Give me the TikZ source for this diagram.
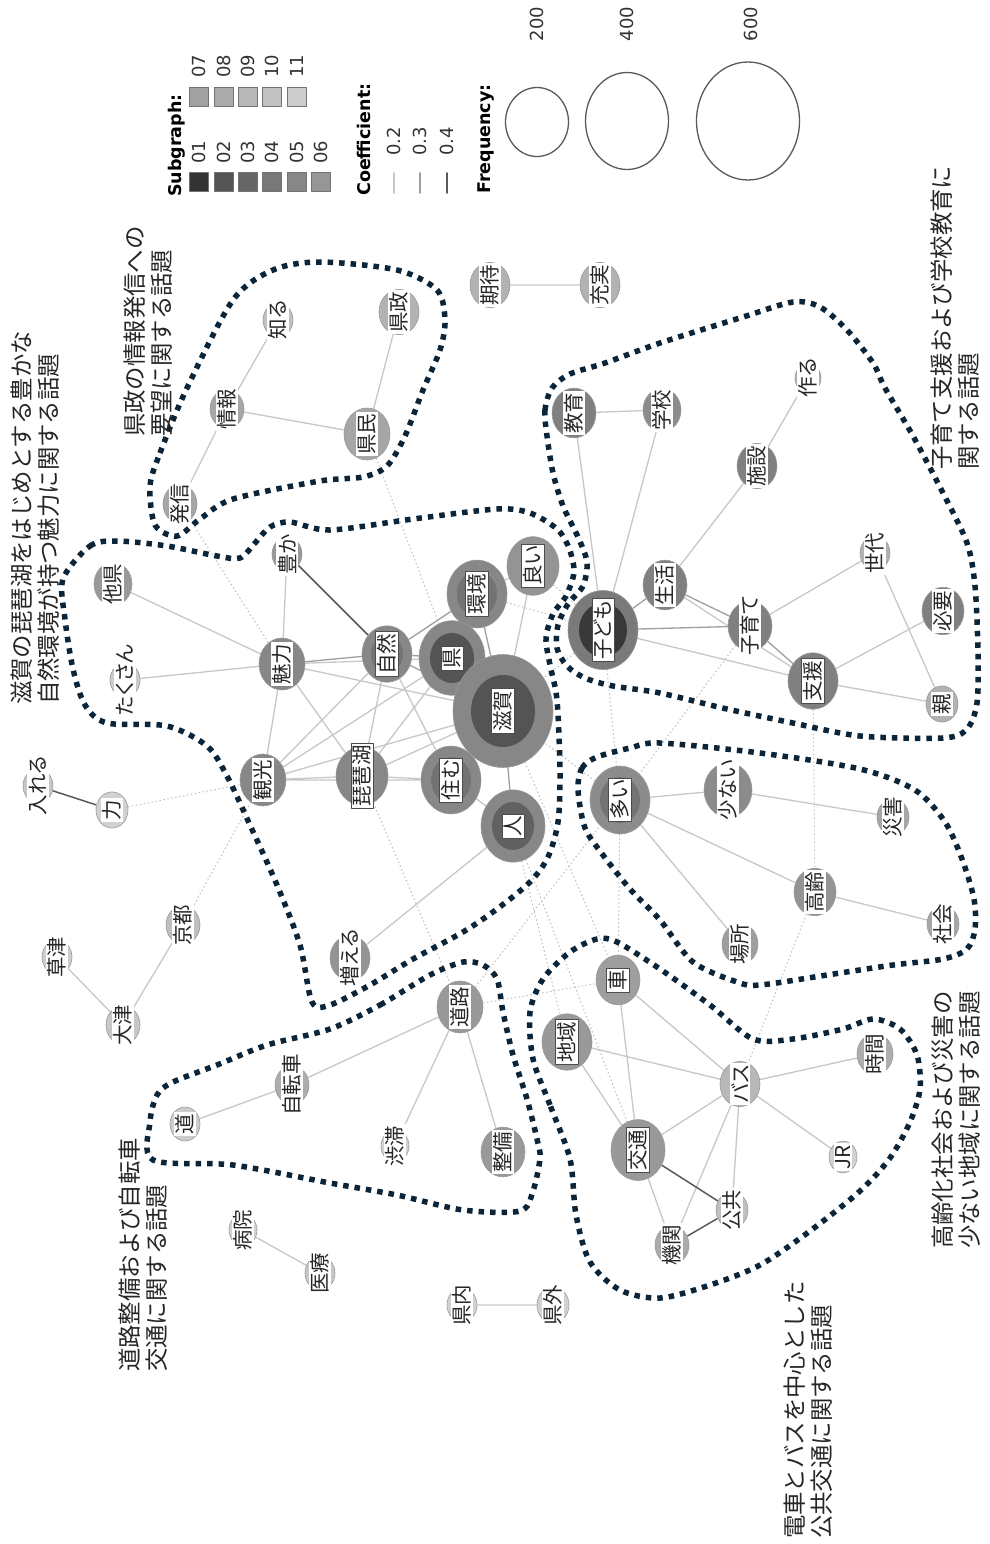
\documentclass[tikz,border=0pt]{standalone}
\usepackage{fontspec}
\newfontfamily\jpfont{Noto Sans CJK JP}
\newfontfamily\kwjpfont[RawFeature=+palt]{Noto Sans CJK JP}
\newfontfamily\legendfont{DejaVu Sans}
\usepackage{tikz}
\usetikzlibrary{backgrounds,shapes.geometric}
\definecolor{hullnavy}{RGB}{12,36,56}
\newcommand\kwfont{\kwjpfont\fontsize{20.5}{21}\selectfont}
\newcommand\notefont{\jpfont\fontsize{23.4}{27}\selectfont}
\tikzset{
  every picture/.append style={line cap=round,line join=round},
  kw/.style 2 args={ellipse,draw=black!40,line width=0.6pt,fill=black!#2,inner sep=0pt,minimum width={2pt*#1},minimum height={2.26pt*#1}},
  kw core/.style n args={3}{path picture={\fill[black!#3] (path picture bounding box.center) ellipse [x radius=#1pt,y radius=#2pt];}},
  kw label/.style={rotate=90,fill=white,inner sep=1.8pt,font=\kwfont,text=black!85},
  boxed/.style={draw=black!70,line width=0.6pt},
  co low/.style={black!22,line width=1.3pt},
  co mid/.style={black!38,line width=1.3pt},
  co high/.style={black!65,line width=1.5pt},
  co cross/.style={black!25,line width=1pt,dash pattern=on 1.5pt off 2.5pt},
  topic hull/.style={draw=hullnavy,line width=5.5pt,line cap=butt,dash pattern=on 5.5pt off 6pt},
  topic note/.style={rotate=90,anchor=north west,align=left,inner sep=0pt,font=\notefont,text=black!85},
  legend head/.style={rotate=90,anchor=west,inner sep=0pt,font=\legendfont\bfseries\fontsize{17.5}{18}\selectfont},
  legend num/.style={rotate=90,anchor=west,inner sep=0pt,font=\legendfont\fontsize{18}{18}\selectfont,text=black!80},
  sgbox/.style={draw=black!55,line width=0.8pt,minimum size=19pt,inner sep=0pt},
  freq/.style={ellipse,draw=black!65,line width=1.3pt,inner sep=0pt}
}
\begin{document}
\begin{tikzpicture}[x=1pt,y=-1pt]
\useasboundingbox (0,0) rectangle (989,1544);

\node[legend head] (sg-head) at (177,197) {Subgraph:};
\node[sgbox,fill=black!80] (sg01) at (199,182) {};
\node[sgbox,fill=black!67] (sg02) at (224,182) {};
\node[sgbox,fill=black!60] (sg03) at (248,182) {};
\node[sgbox,fill=black!53] (sg04) at (272,182) {};
\node[sgbox,fill=black!47] (sg05) at (297,182) {};
\node[sgbox,fill=black!41] (sg06) at (321,182) {};
\node[sgbox,fill=black!37] (sg07) at (199,97) {};
\node[sgbox,fill=black!33] (sg08) at (224,97) {};
\node[sgbox,fill=black!28] (sg09) at (248,97) {};
\node[sgbox,fill=black!24] (sg10) at (272,97) {};
\node[sgbox,fill=black!20] (sg11) at (297,97) {};
\node[legend num] (sg01-t) at (199,164) {01};
\node[legend num] (sg02-t) at (224,164) {02};
\node[legend num] (sg03-t) at (248,164) {03};
\node[legend num] (sg04-t) at (272,164) {04};
\node[legend num] (sg05-t) at (297,164) {05};
\node[legend num] (sg06-t) at (321,164) {06};
\node[legend num] (sg07-t) at (199,78) {07};
\node[legend num] (sg08-t) at (224,78) {08};
\node[legend num] (sg09-t) at (248,78) {09};
\node[legend num] (sg10-t) at (272,78) {10};
\node[legend num] (sg11-t) at (297,78) {11};

\node[legend head] (co-head) at (364,196) {Coefficient:};
\draw[co low,line width=1.6pt] (394,173) -- (394,193);
\draw[co mid,line width=1.6pt] (420,173) -- (420,193);
\draw[co high,line width=1.6pt] (447,173) -- (447,193);
\node[legend num] (co-2) at (394,156) {0.2};
\node[legend num] (co-3) at (420,156) {0.3};
\node[legend num] (co-4) at (447,156) {0.4};

\node[legend head] (fr-head) at (486,194) {Frequency:};
\node[freq,minimum width=63pt,minimum height=69pt] (fr200) at (537,122) {};
\node[freq,minimum width=83pt,minimum height=97pt] (fr400) at (627,121) {};
\node[freq,minimum width=103pt,minimum height=118pt] (fr600) at (748,121) {};
\node[legend num,anchor=center] (fr200-t) at (537,24) {200};
\node[legend num,anchor=center] (fr400-t) at (627,24) {400};
\node[legend num,anchor=center] (fr600-t) at (751,24) {600};

\node[kw={17}{35},label={[kw label]center:発信}] (hasshin) at (180,504) {};
\node[kw={17}{35},label={[kw label]center:情報}] (joho) at (227,409) {};
\node[kw={15}{25},label={[kw label]center:知る}] (shiru) at (278,320) {};
\node[kw={23}{35},label={[kw label]center:県民}] (kenmin) at (367,434) {};
\node[kw={20}{30},label={[kw label]center:県政}] (kensei) at (399,312) {};
\node[kw={20}{30},label={[kw label]center:期待}] (kitai) at (490,285) {};
\node[kw={20}{30},label={[kw label]center:充実}] (juujitsu) at (600,285) {};

\node[kw={19}{40},label={[kw label]center:他県}] (taken) at (113,584) {};
\node[kw={15}{20},label={[kw label]center:たくさん}] (takusan) at (125,680) {};
\node[kw={15}{40},label={[kw label]center:豊か}] (yutaka) at (287,554) {};
\node[kw={23}{47},label={[kw label]center:魅力}] (miryoku) at (282,664) {};
\node[kw={25}{47},kw core={16}{19}{55},label={[kw label,boxed]center:自然}] (shizen) at (387,654) {};
\node[kw={30}{47},kw core={20}{23}{55},label={[kw label,boxed]center:環境}] (kankyo) at (477,594) {};
\node[kw={26}{42},label={[kw label,boxed]center:良い}] (yoi) at (533,566) {};
\node[kw={33}{47},kw core={22}{25}{67},label={[kw label,boxed]center:県}] (ken) at (452,658) {};
\node[kw={50}{47},kw core={32}{36}{67},label={[kw label,boxed]center:滋賀}] (shiga) at (503,711) {};
\node[kw={23}{47},label={[kw label]center:観光}] (kanko) at (263,780) {};
\node[kw={26}{47},label={[kw label,boxed]center:琵琶湖}] (biwako) at (362,776) {};
\node[kw={30}{47},kw core={20}{23}{55},label={[kw label,boxed]center:住む}] (sumu) at (451,780) {};
\node[kw={32}{47},kw core={21}{24}{62},label={[kw label,boxed]center:人}] (hito) at (513,826) {};
\node[kw={20}{42},label={[kw label]center:増える}] (fueru) at (350,958) {};

\node[kw={22}{50},label={[kw label]center:教育}] (kyoiku) at (574,413) {};
\node[kw={19}{45},label={[kw label]center:学校}] (gakko) at (662,410) {};
\node[kw={13}{30},label={[kw label]center:作る}] (tsukuru) at (808,378) {};
\node[kw={20}{50},label={[kw label]center:施設}] (shisetsu) at (757,466) {};
\node[kw={15}{30},label={[kw label]center:世代}] (sedai) at (875,553) {};
\node[kw={22}{50},label={[kw label]center:生活}] (seikatsu) at (665,585) {};
\node[kw={35}{52},kw core={24}{27}{78},label={[kw label,boxed]center:子ども}] (kodomo) at (603,630) {};
\node[kw={22}{50},label={[kw label]center:子育て}] (kosodate) at (750,626) {};
\node[kw={21}{50},label={[kw label]center:必要}] (hitsuyo) at (943,611) {};
\node[kw={25}{50},label={[kw label,boxed]center:支援}] (shien) at (813,681) {};
\node[kw={16}{30},label={[kw label]center:親}] (oya) at (942,704) {};

\node[kw={30}{45},kw core={20}{23}{55},label={[kw label,boxed]center:多い}] (oi) at (620,800) {};
\node[kw={24}{45},label={[kw label]center:少ない}] (sukunai) at (728,790) {};
\node[kw={16}{35},label={[kw label]center:災害}] (saigai) at (893,817) {};
\node[kw={21}{42},label={[kw label]center:高齢}] (korei) at (815,892) {};
\node[kw={18}{38},label={[kw label]center:場所}] (basho) at (740,944) {};
\node[kw={16}{35},label={[kw label]center:社会}] (shakai) at (943,924) {};

\node[kw={23}{40},label={[kw label]center:道路}] (doro) at (460,1007) {};
\node[kw={17}{32},label={[kw label]center:自転車}] (jitensha) at (292,1085) {};
\node[kw={15}{20},label={[kw label]center:道}] (michi) at (185,1124) {};
\node[kw={14}{18},label={[kw label]center:渋滞}] (jutai) at (395,1146) {};
\node[kw={22}{40},label={[kw label]center:整備}] (seibi) at (503,1152) {};

\node[kw={22}{38},label={[kw label,boxed]center:車}] (kuruma) at (618,980) {};
\node[kw={25}{40},label={[kw label,boxed]center:地域}] (chiiki) at (567,1042) {};
\node[kw={20}{28},label={[kw label]center:バス}] (bus) at (740,1084) {};
\node[kw={18}{32},label={[kw label]center:時間}] (jikan) at (875,1054) {};
\node[kw={14}{18},label={[kw label]center:JR}] (jr) at (843,1157) {};
\node[kw={27}{40},label={[kw label,boxed]center:交通}] (kotsu) at (638,1150) {};
\node[kw={16}{25},label={[kw label]center:公共}] (kokyo) at (732,1210) {};
\node[kw={17}{33},label={[kw label]center:機関}] (kikan) at (672,1245) {};

\node[kw={15}{22},label={[kw label]center:入れる}] (ireru) at (38,786) {};
\node[kw={16}{18},label={[kw label]center:力}] (chikara) at (112,810) {};
\node[kw={17}{25},label={[kw label]center:京都}] (kyoto) at (183,925) {};
\node[kw={15}{20},label={[kw label]center:草津}] (kusatsu) at (57,957) {};
\node[kw={17}{22},label={[kw label]center:大津}] (otsu) at (123,1025) {};
\node[kw={14}{18},label={[kw label]center:病院}] (byoin) at (243,1230) {};
\node[kw={15}{22},label={[kw label]center:医療}] (iryo) at (320,1273) {};
\node[kw={15}{18},label={[kw label]center:県内}] (kennai) at (462,1305) {};
\node[kw={16}{18},label={[kw label]center:県外}] (kengai) at (553,1305) {};

\begin{scope}[on background layer]
\draw[co low] (hasshin) -- (joho) (joho) -- (shiru) (joho) -- (kenmin) (kenmin) -- (kensei) (kitai) -- (juujitsu);
\draw[co low] (taken) -- (miryoku) (takusan) -- (miryoku) (yutaka) -- (miryoku) (miryoku) -- (ken) (miryoku) -- (shiga) (miryoku) -- (kanko) (miryoku) -- (biwako);
\draw[co low] (shizen) -- (kanko) (shizen) -- (sumu) (shizen) -- (biwako) (ken) -- (kanko) (kankyo) -- (yoi) (yoi) -- (shiga) (shiga) -- (biwako) (kanko) -- (biwako) (kanko) -- (shiga) (kanko) -- (sumu) (biwako) -- (sumu) (biwako) -- (ken) (sumu) -- (hito) (hito) -- (fueru);
\draw[co mid] (miryoku) -- (shizen) (shizen) -- (kankyo) (shizen) -- (ken) (shizen) -- (shiga) (ken) -- (kankyo) (kankyo) -- (shiga) (shiga) -- (hito) (shiga) -- (sumu);
\draw[co high] (yutaka) -- (shizen);
\draw[co low] (kyoiku) -- (gakko) (kyoiku) -- (kodomo) (gakko) -- (kodomo) (tsukuru) -- (shisetsu) (shisetsu) -- (seikatsu) (kosodate) -- (sedai) (sedai) -- (oya) (shien) -- (hitsuyo) (shien) -- (oya) (kodomo) -- (shien) (seikatsu) -- (shien);
\draw[co mid] (seikatsu) -- (kosodate) (kodomo) -- (seikatsu) (kodomo) -- (kosodate) (kosodate) -- (shien);
\draw[co low] (oi) -- (sukunai) (sukunai) -- (saigai) (oi) -- (korei) (oi) -- (basho) (korei) -- (shakai);
\draw[co low] (doro) -- (jitensha) (jitensha) -- (michi) (doro) -- (jutai) (doro) -- (seibi);
\draw[co low] (kuruma) -- (kotsu) (kuruma) -- (bus) (chiiki) -- (kotsu) (chiiki) -- (bus) (bus) -- (jikan) (bus) -- (jr) (bus) -- (kotsu) (bus) -- (kokyo) (bus) -- (kikan) (kotsu) -- (kikan);
\draw[co high] (kotsu) -- (kokyo) (kokyo) -- (kikan) (ireru) -- (chikara);
\draw[co low] (kusatsu) -- (otsu) (otsu) -- (kyoto) (byoin) -- (iryo) (kennai) -- (kengai);
\draw[co cross] (hasshin) -- (miryoku) (kenmin) -- (ken) (chikara) -- (kanko) (kyoto) -- (kanko) (biwako) -- (doro) (hito) -- (chiiki) (shiga) -- (kuruma) (doro) -- (kuruma) (doro) -- (oi) (oi) -- (kuruma);
\draw[co cross] (shien) -- (korei) (korei) -- (bus) (kodomo) -- (shiga) (kodomo) -- (oi) (kankyo) -- (kodomo) (yoi) -- (kodomo) (kosodate) -- (oi) (oi) -- (shiga) (hito) -- (kotsu);
\end{scope}

\draw[topic hull] plot[smooth cycle] coordinates {(150,486) (160,453) (187,388) (233,300) (273,270) (320,262) (397,270) (437,290) (445,320) (440,350) (423,390) (405,436) (387,466) (363,477) (320,481) (233,499) (200,519) (177,536) (155,525)};
\draw[topic hull] plot[smooth cycle] coordinates {(63,579) (90,546) (117,541) (167,546) (217,556) (240,558) (255,543) (270,527) (290,522) (330,530) (413,519) (497,509) (530,513) (557,529) (569,548) (574,572) (566,596) (553,614) (546,638) (550,665) (557,700) (560,772) (558,822) (548,857) (530,882) (497,909) (463,932) (413,959) (370,985) (330,1005) (312,1002) (300,945) (277,885) (250,825) (227,776) (207,746) (167,726) (107,723) (85,705) (73,669) (65,619)};
\draw[topic hull] plot[smooth cycle] coordinates {(552,388) (545,410) (547,436) (553,473) (563,506) (578,537) (587,562) (583,586) (568,604) (558,625) (557,648) (567,666) (585,678) (613,686) (660,693) (727,709) (793,723) (860,736) (943,738) (967,729) (977,703) (978,653) (975,586) (967,543) (943,493) (913,436) (885,388) (873,363) (847,330) (820,307) (793,302) (743,317) (660,343) (605,363) (570,374)};
\draw[topic hull] plot[smooth cycle] coordinates {(578,790) (582,768) (597,757) (630,748) (660,743) (760,753) (860,769) (915,790) (945,822) (962,859) (974,899) (975,929) (967,949) (943,959) (893,965) (827,975) (760,985) (737,982) (693,962) (660,920) (630,889) (603,855) (585,828)};
\draw[topic hull] plot[smooth cycle] coordinates {(330,1029) (380,1005) (430,975) (463,962) (483,965) (497,979) (503,1012) (513,1055) (527,1099) (537,1139) (540,1158) (533,1191) (520,1211) (463,1210) (397,1195) (330,1183) (233,1165) (153,1160) (150,1122) (157,1095) (173,1082) (217,1065) (267,1045)};
\draw[topic hull] plot[smooth cycle] coordinates {(570,1159) (550,1105) (533,1059) (530,1012) (543,979) (570,952) (597,939) (617,942) (660,969) (710,1005) (753,1039) (793,1039) (843,1029) (873,1019) (900,1029) (917,1055) (920,1089) (910,1122) (890,1158) (860,1191) (810,1231) (760,1265) (710,1285) (660,1298) (620,1290) (590,1262) (576,1215)};

\node[topic note] (note-shiga) at (11,705) {滋賀の琵琶湖をはじめとする豊かな\\自然環境が持つ魅力に関する話題};
\node[topic note] (note-kensei) at (124,437) {県政の情報発信への\\要望に関する話題};
\node[topic note] (note-kodomo) at (931,470) {子育て支援および学校教育に\\関する話題};
\node[topic note] (note-korei) at (932,1249) {高齢化社会および災害の\\少ない地域に関する話題};
\node[topic note] (note-kotsu) at (784,1539) {電車とバスを中心とした\\公共交通に関する話題};
\node[topic note] (note-doro) at (119,1372) {道路整備および自転車\\交通に関する話題};
\end{tikzpicture}
\end{document}
